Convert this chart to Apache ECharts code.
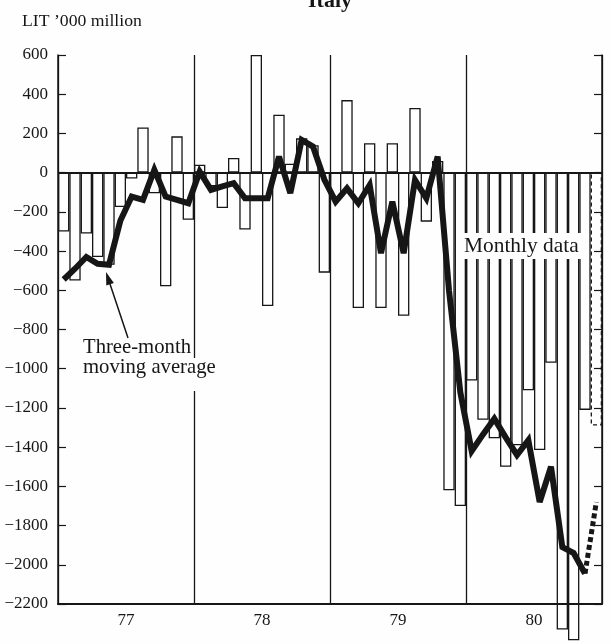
<!DOCTYPE html>
<html>
<head>
<meta charset="utf-8">
<script src="https://cdn.jsdelivr.net/npm/echarts@6/dist/echarts.min.js"></script>
<style>
html,body{margin:0;padding:0;background:#fefefe;}
#chart{width:610px;height:644px;}
</style>
</head>
<body>
<div id="chart"></div>
<script>
// Year labels (x axis)
const yearLabels = ['77', '78', '79', '80'];
// Y tick range
const yMin = -2200, yMax = 600, yStep = 200;

// Monthly data (LIT '000 million), Jan..Dec of each year
const monthly77 = [-300, -550, -310, -430, -470, -175, -30, 230, -105, -580, 185, -240];
const monthly78 = [40, -70, -180, 75, -290, 600, -680, 295, 45, 175, 140, -510];
const monthly79 = [-130, 370, -690, 150, -690, 150, -730, 330, -250, 60, -1620, -1700];
const monthly80 = [-1060, -1260, -1355, -1500, -1390, -1110, -1415, -970, -2330, -2385, -1210, -1290];

// Three-month moving average
const avg77 = [-545, -490, -430, -465, -470, -245, -122, -139, 14, -122, -139, -156];
const avg78 = [5, -88, -70, -54, -131, -131, -131, 82, -105, 167, 133, -35];
const avg79 = [-148, -80, -156, -63, -411, -148, -411, -37, -131, 82, -600, -1120];
const avg80 = [-1420, -1335, -1255, -1350, -1440, -1365, -1680, -1500, -1910, -1940, -2045, -1680];

// Last month is an estimate (dashed)
const estimatedMonths = 1;

const months = [];
yearLabels.forEach(y => { for (let m = 1; m <= 12; m++) months.push(y + '-' + m); });
const monthly = [].concat(monthly77, monthly78, monthly79, monthly80);
const avg = [].concat(avg77, avg78, avg79, avg80);

const n = months.length;
const barData = monthly.map((v, i) => i >= n - estimatedMonths
  ? { value: v, itemStyle: { borderType: [4, 3] } } : v);
const avgSolid = avg.map((v, i) => i <= n - 1 - estimatedMonths ? v : null);
const avgDash = avg.map((v, i) => i >= n - 1 - estimatedMonths ? v : null);

const INK = '#161616';
const BG = '#fefefe';
const SERIF = '"Liberation Serif", "Times New Roman", serif';

const chart = echarts.init(document.getElementById('chart'), null, { renderer: 'canvas' });
chart.setOption({
  animation: false,
  backgroundColor: BG,
  grid: { left: 58, right: 8, top: 55, bottom: 40, containLabel: false },
  xAxis: [
    {
      type: 'category', data: months, position: 'bottom', boundaryGap: true,
      axisLine: { onZero: false, lineStyle: { color: INK, width: 2 } },
      axisTick: { inside: true, length: 9, interval: 0, lineStyle: { color: INK, width: 1.2 } },
      axisLabel: { show: false }, splitLine: { show: false }
    },
    {
      type: 'category', data: months, position: 'bottom', boundaryGap: true,
      axisLine: { show: false, onZero: false },
      axisTick: { inside: true, length: 18, interval: (i) => i % 3 === 0, lineStyle: { color: INK, width: 1.2 } },
      axisLabel: { show: false }, splitLine: { show: false }
    },
    {
      type: 'category', data: yearLabels, position: 'bottom', boundaryGap: true,
      axisLine: { show: false, onZero: false },
      axisTick: { show: false },
      axisLabel: { show: true, margin: 8, color: INK, fontSize: 17, fontFamily: SERIF },
      splitLine: { show: true, interval: 0, lineStyle: { color: INK, width: 1.3 } }
    }
  ],
  yAxis: [
    {
      type: 'value', min: yMin, max: yMax, interval: yStep, position: 'left',
      axisLine: { show: true, lineStyle: { color: INK, width: 1.5 } },
      axisTick: { show: true, inside: true, length: 8, lineStyle: { color: INK, width: 1.2 } },
      axisLabel: {
        margin: 10, color: INK, fontSize: 17, fontFamily: SERIF,
        formatter: v => v < 0 ? '\u2212' + (-v) : String(v)
      },
      splitLine: { show: false }
    },
    {
      type: 'value', min: yMin, max: yMax, interval: yStep, position: 'right',
      axisLine: { show: true, lineStyle: { color: INK, width: 1.5 } },
      axisTick: { show: true, inside: true, length: 8, lineStyle: { color: INK, width: 1.2 } },
      axisLabel: { show: false },
      splitLine: { show: false }
    }
  ],
  series: [
    {
      name: 'Monthly data', type: 'bar', data: barData,
      xAxisIndex: 0, yAxisIndex: 0,
      barCategoryGap: '0%', clip: false,
      itemStyle: { color: 'rgba(0,0,0,0)', borderColor: INK, borderWidth: 1.3 },
      emphasis: { disabled: true },
      markLine: {
        silent: true, symbol: 'none', label: { show: false },
        lineStyle: { color: INK, width: 2, type: 'solid' },
        data: [{ yAxis: 0 }]
      },
      z: 2
    },
    {
      name: 'Three-month moving average', type: 'line', data: avgSolid,
      xAxisIndex: 0, yAxisIndex: 0,
      showSymbol: false, symbol: 'none',
      lineStyle: { color: INK, width: 6, join: 'miter', miterLimit: 3 },
      emphasis: { disabled: true },
      z: 5
    },
    {
      name: 'estimate', type: 'line', data: avgDash,
      xAxisIndex: 0, yAxisIndex: 0,
      showSymbol: false, symbol: 'none',
      lineStyle: { color: INK, width: 5, type: [5, 3] },
      emphasis: { disabled: true },
      z: 5
    }
  ],
  graphic: [
    { type: 'text', x: 330, y: 1, z: 100,
      style: { text: 'Italy', font: 'bold 22px ' + SERIF, align: 'center', verticalAlign: 'middle', fill: INK } },
    { type: 'text', x: 22, y: 21, z: 100,
      style: { text: 'LIT \u2019000 million', font: '17.7px ' + SERIF, align: 'left', verticalAlign: 'middle', fill: INK } },
    { type: 'rect', z: 99, shape: { x: 188, y: 358, width: 12, height: 33 }, style: { fill: BG } },
    { type: 'text', x: 83, y: 348, z: 100,
      style: { text: 'Three-month', font: '20.7px ' + SERIF, align: 'left', verticalAlign: 'middle', fill: INK } },
    { type: 'text', x: 83, y: 368, z: 100,
      style: { text: 'moving average', font: '20.7px ' + SERIF, align: 'left', verticalAlign: 'middle', fill: INK } },
    { type: 'text', x: 461, y: 246, z: 100,
      style: { text: 'Monthly data', font: '21.4px ' + SERIF, align: 'left', verticalAlign: 'middle', fill: INK,
        backgroundColor: BG, padding: [2, 9, 3, 3] } },
    { type: 'line', z: 100,
      shape: { x1: 128, y1: 338, x2: 110, y2: 284 },
      style: { stroke: INK, lineWidth: 1.5 } },
    { type: 'polygon', z: 100,
      shape: { points: [[106, 272], [113.9, 283], [106.3, 285.6]] },
      style: { fill: INK } }
  ]
});
</script>
</body>
</html>
